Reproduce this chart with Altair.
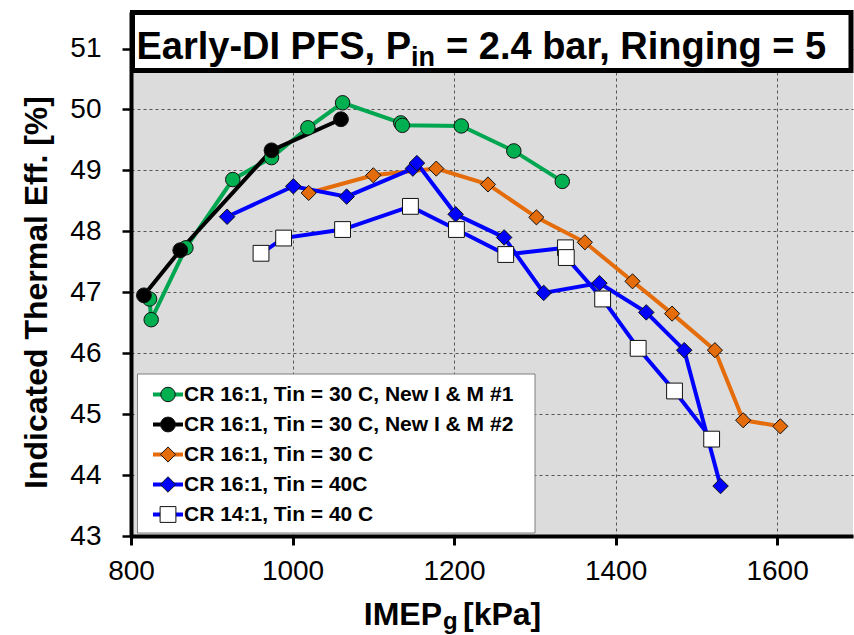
import altair as alt
import pandas as pd

# ---------------- data ----------------
series_names = [
    "CR 16:1, Tin = 30 C, New I & M #1",
    "CR 16:1, Tin = 30 C, New I & M #2",
    "CR 16:1, Tin = 30 C",
    "CR 16:1, Tin = 40C",
    "CR 14:1, Tin = 40 C",
]

green_x = [823, 825, 868, 926, 974, 1019, 1062, 1134, 1136, 1209, 1274, 1334]
green_y = [46.89, 46.55, 47.73, 48.85, 49.21, 49.70, 50.11, 49.78, 49.74, 49.73, 49.32, 48.82]

black_x = [816, 861, 974, 1060]
black_y = [46.95, 47.69, 49.33, 49.84]

orange_x = [1020, 1100, 1178, 1242, 1302, 1362, 1421, 1470, 1523, 1558, 1604]
orange_y = [48.63, 48.92, 49.03, 48.77, 48.23, 47.82, 47.18, 46.65, 46.05, 44.90, 44.80]

blue_x = [919, 1001, 1067, 1149, 1154, 1202, 1262, 1311, 1380, 1438, 1485, 1530]
blue_y = [48.24, 48.74, 48.57, 49.03, 49.12, 48.28, 47.90, 46.99, 47.15, 46.67, 46.05, 43.82]

white_x = [961, 989, 1062, 1146, 1203, 1264, 1338, 1339, 1384, 1428, 1473, 1519]
white_y = [47.64, 47.89, 48.03, 48.41, 48.03, 47.62, 47.73, 47.57, 46.89, 46.08, 45.38, 44.59]

x_ticks = [800, 1000, 1200, 1400, 1600]
y_ticks = [43, 44, 45, 46, 47, 48, 49, 50, 51]

line_colors = ["#00A650", "#000000", "#E46C0A", "#0000FF", "#0000FF"]
line_widths = [4, 4, 4, 4.8, 4.8]
fill_colors = ["#00B050", "#000000", "#E46C0A", "#0000FF", "#FFFFFF"]
shapes = ["circle", "circle", "diamond", "diamond", "square"]
sizes = [210, 250, 430, 470, 225]

# ---------------- build table ----------------
rows = []
for name, xs, ys in zip(series_names,
                        [green_x, black_x, orange_x, blue_x, white_x],
                        [green_y, black_y, orange_y, blue_y, white_y]):
    for xv, yv in zip(xs, ys):
        rows.append({"series": name, "series_pt": name, "imep": xv, "eff": yv})
df = pd.DataFrame(rows)
one = pd.DataFrame({"k": [0]})

FONT = "Liberation Sans, Arial, sans-serif"

xscale = alt.Scale(domain=[800, 1694], nice=False, zero=False)
yscale = alt.Scale(domain=[43, 51.6], nice=False, zero=False)

x_axis = alt.Axis(values=x_ticks, format="d", title=None, labelFont=FONT, labelFontSize=28,
                  labelColor="black", labelPadding=12, labelFlush=False,
                  labelOverlap=False, tickSize=9, tickWidth=3, tickColor="black",
                  domainColor="black", domainWidth=4, grid=True, gridColor="#555555",
                  gridDash=[3, 3], gridWidth=1)
y_axis = alt.Axis(values=y_ticks, format="d", title="Indicated Thermal Eff. [%]", titleFont=FONT,
                  titleFontSize=32, titleFontWeight="bold", titleColor="black",
                  titleX=-95, titleY=280, titleAngle=270, titleAlign="center",
                  titleBaseline="middle", labelFont=FONT, labelFontSize=28,
                  labelColor="black", labelPadding=21, labelFlush=False,
                  labelOverlap=False, tickSize=9, tickWidth=2.5, tickColor="black",
                  domainColor="black", domainWidth=4, grid=True, gridColor="#555555",
                  gridDash=[3, 3], gridWidth=1)

common_legend = dict(orient="none", legendX=14, legendY=372, padding=0,
                     labelFont=FONT, labelFontSize=21, labelFontWeight="bold",
                     labelColor="black", labelLimit=600, rowPadding=8.0,
                     labelOffset=5.5, symbolOffset=12.5)

line_legend = alt.Legend(title=None, symbolType="M-2,0H-0.5M0.5,0H2", symbolSize=225,
                         symbolStrokeWidth=4, **common_legend)
point_legend = alt.Legend(title=None, symbolSize=125, symbolStrokeColor="#111111",
                          symbolStrokeWidth=1, labelOpacity=0, **common_legend)

# line layer: data-driven (custom-sorted) domain so its legend stays separate
lines = alt.Chart(df).mark_line().encode(
    x=alt.X("imep:Q", scale=xscale, axis=x_axis),
    y=alt.Y("eff:Q", scale=yscale, axis=y_axis),
    stroke=alt.Stroke("series:N", sort=series_names, scale=alt.Scale(range=line_colors),
                      legend=line_legend),
    strokeWidth=alt.StrokeWidth("series:N", sort=series_names,
                                scale=alt.Scale(range=line_widths), legend=None),
)

# point layer: explicit domain, colour + shape share one legend
points = alt.Chart(df).mark_point(filled=True, stroke="#111111", strokeWidth=1, opacity=1).encode(
    x=alt.X("imep:Q", scale=xscale),
    y=alt.Y("eff:Q", scale=yscale),
    color=alt.Color("series_pt:N", scale=alt.Scale(domain=series_names, range=fill_colors),
                    legend=point_legend),
    shape=alt.Shape("series_pt:N", scale=alt.Scale(domain=series_names, range=shapes),
                    legend=point_legend),
    size=alt.Size("series_pt:N", scale=alt.Scale(domain=series_names, range=sizes),
                  legend=None),
)

title_box = alt.Chart(one).mark_rect(fill="white", stroke="black", strokeWidth=5).encode(
    x=alt.value(1.5), x2=alt.value(720), y=alt.value(0.5), y2=alt.value(58.5))

legend_box = alt.Chart(one).mark_rect(fill="white", stroke="#7f7f7f", strokeWidth=1).encode(
    x=alt.value(6.5), x2=alt.value(404), y=alt.value(362), y2=alt.value(521))


def txt(text, x, y, size, align="left", font=FONT):
    return alt.Chart(one).mark_text(text=text, align=align, baseline="alphabetic",
                                    fontSize=size, fontWeight="bold", font=font,
                                    color="black").encode(x=alt.value(x), y=alt.value(y))


title1 = txt("Early-DI PFS, P", 280, 47, 38, align="right")
title2 = txt("in", 280, 54, 27)
title3 = txt("= 2.4 bar, Ringing = 5", 315, 47, 38)

xt1 = txt("IMEP", 311, 613, 32, align="right")
xt2 = txt("g", 312, 617, 24)
xt3 = txt("[kPa]", 332, 613, 32)

chart = alt.layer(
    lines, points, title_box, title1, title2, title3, legend_box, xt1, xt2, xt3
).properties(
    width=722, height=524,
    padding={"left": 131, "top": 12, "right": 1, "bottom": 99},
    autosize=alt.AutoSizeParams(type="none"),
    background="white",
).configure_view(fill="#DCDCDC", strokeWidth=0)

chart.save("out.html", embed_options={"renderer": "svg", "actions": False})
